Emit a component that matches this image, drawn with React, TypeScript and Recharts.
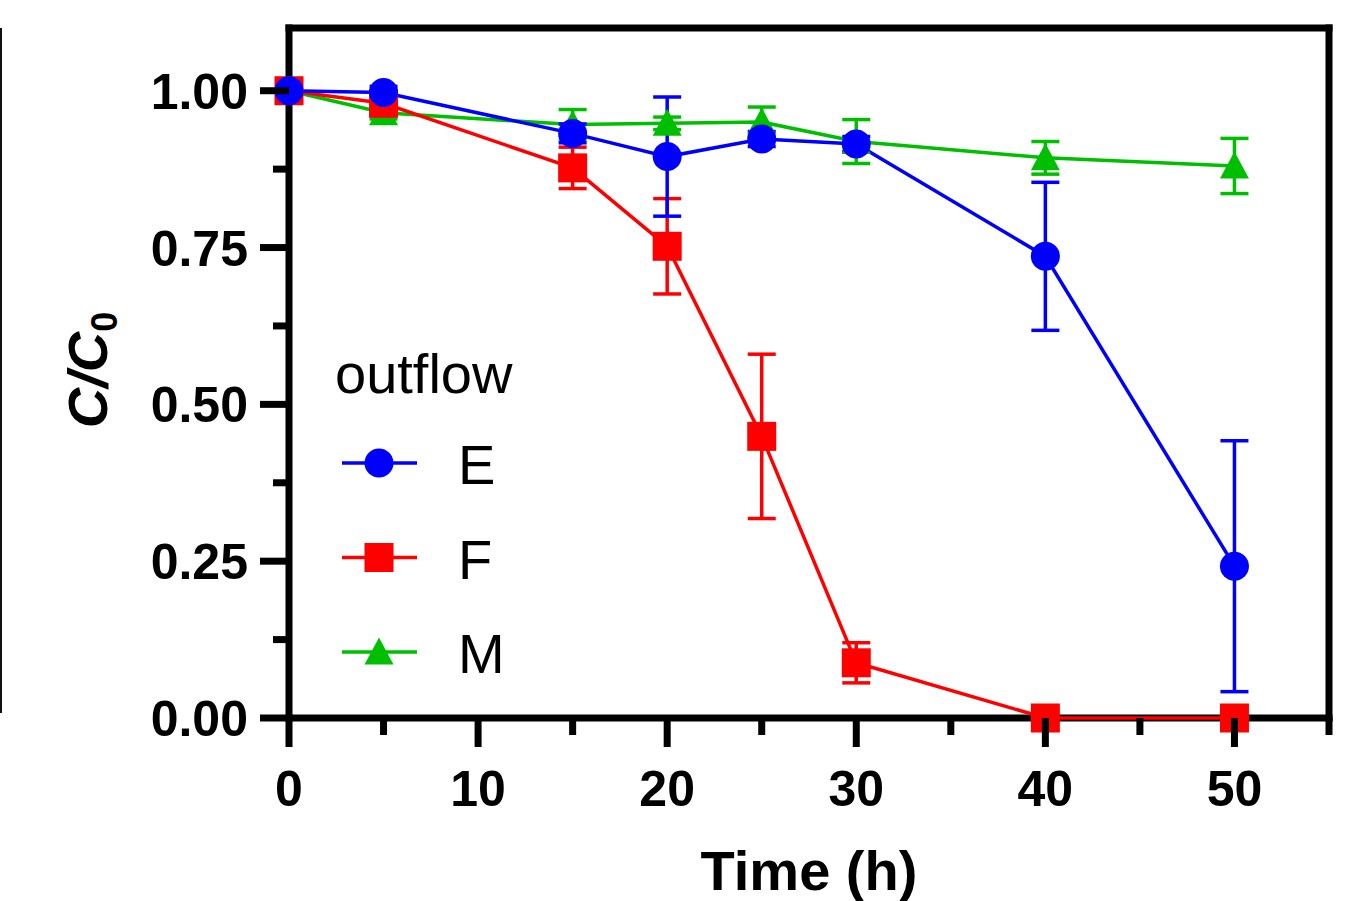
import React from 'react';
import { ComposedChart, Line, XAxis, YAxis, ErrorBar, ReferenceLine, Legend, Label } from 'recharts';

// ---- data ----
const timeH = [0, 5, 15, 20, 25, 30, 40, 50];
const valE = [1.0, 0.997, 0.932, 0.895, 0.923, 0.915, 0.736, 0.242];
const errE = [0.005, 0.01, 0.015, 0.095, 0.012, 0.012, 0.118, 0.2];
const valF = [1.0, 0.98, 0.877, 0.752, 0.449, 0.088, 0.0, 0.0];
const errF = [0.005, 0.01, 0.033, 0.076, 0.131, 0.032, 0, 0];
const valM = [1.0, 0.965, 0.946, 0.948, 0.95, 0.919, 0.893, 0.88];
const errM = [0.005, 0.01, 0.024, 0.01, 0.024, 0.035, 0.026, 0.044];

const seriesNames = ['E', 'F', 'M'];
const seriesColors = ['#0000FF', '#FF0000', '#00BF00'];
const seriesShapes = ['circle', 'square', 'triangle'];
const legendTitle = 'outflow';

const xTicks = [0, 5, 10, 15, 20, 25, 30, 35, 40, 45, 50, 55];
const yTicks = [0, 0.125, 0.25, 0.375, 0.5, 0.625, 0.75, 0.875, 1.0];
const xTitle = 'Time (h)';

const rows = timeH.map((t, i) => ({
  t,
  E: valE[i], Ee: errE[i],
  F: valF[i], Fe: errF[i],
  M: valM[i], Me: errM[i],
}));

const FONT = '"Liberation Sans", Arial, Helvetica, sans-serif';
const AXIS_W = 7;
const Y_AXIS_W = 100;
const X_AXIS_H = 100;

function Marker({ shape, cx, cy, color }: any) {
  if (shape === 'circle') return <circle cx={cx} cy={cy} r={14.5} fill={color} stroke="none" />;
  if (shape === 'square') return <rect x={cx - 14.5} y={cy - 14.5} width={29} height={29} fill={color} stroke="none" />;
  return (
    <polygon
      points={`${cx},${cy - 14.5} ${cx + 14.5},${cy + 12.5} ${cx - 14.5},${cy + 12.5}`}
      fill={color}
      stroke="none"
    />
  );
}

const YTick = (props: any) => {
  const { x, y, payload } = props;
  const v = payload.value;
  const major = Math.abs(v * 4 - Math.round(v * 4)) < 1e-6;
  return (
    <g>
      <line x1={x} x2={x - (major ? 29 : 16)} y1={y} y2={y} stroke="#000" strokeWidth={AXIS_W} />
      {major && (
        <text x={x - 41} y={y} dy="0.36em" textAnchor="end" fontSize={50} fontWeight="bold" fontFamily={FONT} fill="#000">
          {v.toFixed(2)}
        </text>
      )}
    </g>
  );
};

const XTick = (props: any) => {
  const { x, y, payload } = props;
  const v = payload.value;
  const major = v % 10 === 0;
  return (
    <g>
      <line x1={x} x2={x} y1={y} y2={y + (major ? 29 : 17)} stroke="#000" strokeWidth={AXIS_W} />
      {major && (
        <text x={x} y={y + 88} textAnchor="middle" fontSize={50} fontWeight="bold" fontFamily={FONT} fill="#000">
          {v}
        </text>
      )}
    </g>
  );
};

const YTitle = (props: any) => {
  const vb = props.viewBox || {};
  const cx = vb.x + vb.width - 182;
  const cy = vb.y + vb.height / 2 - 3;
  return (
    <text
      x={cx}
      y={cy}
      transform={`rotate(-90, ${cx}, ${cy})`}
      textAnchor="middle"
      fontSize={56}
      fontWeight="bold"
      fontStyle="italic"
      fontFamily={FONT}
      fill="#000"
    >
      C/C
      <tspan fontSize={36} dy={10} fontStyle="normal">0</tspan>
    </text>
  );
};

const XTitle = (props: any) => {
  const vb = props.viewBox || {};
  return (
    <text x={vb.x + vb.width / 2} y={vb.y + 172} textAnchor="middle" fontSize={56} fontWeight="bold" fontFamily={FONT} fill="#000">
      {xTitle}
    </text>
  );
};

const LegendContent = () => (
  <svg width={260} height={350} style={{ display: 'block', overflow: 'visible' }}>
    <text x={5} y={53} fontSize={56} fontFamily={FONT} fill="#000">{legendTitle}</text>
    {seriesNames.map((n, i) => {
      const cy = 123 + i * 94.5;
      return (
        <g key={n}>
          <line x1={12} x2={87} y1={cy} y2={cy} stroke={seriesColors[i]} strokeWidth={3.5} />
          <Marker shape={seriesShapes[i]} cx={49} cy={cy} color={seriesColors[i]} />
          <text x={128} y={cy + 21} fontSize={56} fontFamily={FONT} fill="#000">{n}</text>
        </g>
      );
    })}
  </svg>
);

export default function App() {
  return (
    <div style={{ position: 'absolute', left: 0, top: 0, width: 1367, height: 901, background: '#fff' }}>
      <div style={{ position: 'absolute', left: 0, top: 28, width: 2, height: 685, background: '#111' }} />
      <ComposedChart
        width={1367}
        height={901}
        data={rows}
        margin={{ top: 28, right: 38, bottom: 183 - X_AXIS_H, left: 289 - Y_AXIS_W }}
      >
        <XAxis
          dataKey="t"
          type="number"
          domain={[0, 55]}
          ticks={xTicks}
          interval={0}
          height={X_AXIS_H}
          tickSize={0}
          tickMargin={0}
          tickLine={false}
          tick={<XTick />}
          axisLine={false}
        >
          <Label content={<XTitle />} />
        </XAxis>
        <YAxis
          type="number"
          domain={[0, 1.1]}
          ticks={yTicks}
          interval={0}
          width={Y_AXIS_W}
          tickSize={0}
          tickMargin={0}
          tickLine={false}
          tick={<YTick />}
          axisLine={false}
        >
          <Label content={<YTitle />} />
        </YAxis>
        <ReferenceLine x={0} stroke="#000" strokeWidth={AXIS_W} strokeLinecap="square" />
        <ReferenceLine y={0} stroke="#000" strokeWidth={AXIS_W} strokeLinecap="square" />
        <ReferenceLine y={1.1} stroke="#000" strokeWidth={AXIS_W} strokeLinecap="square" />
        <ReferenceLine x={55} stroke="#000" strokeWidth={AXIS_W} strokeLinecap="square" />
        {[2, 1, 0].map((i) => {
          const key = seriesNames[i];
          return (
            <Line
              key={key}
              dataKey={key}
              name={key}
              type="linear"
              stroke={seriesColors[i]}
              strokeWidth={3.5}
              isAnimationActive={false}
              activeDot={false}
              dot={(p: any) => (
                <Marker key={`${key}-${p.index}`} shape={seriesShapes[i]} cx={p.cx} cy={p.cy} color={seriesColors[i]} />
              )}
            >
              <ErrorBar dataKey={`${key}e`} width={14} strokeWidth={3.5} stroke={seriesColors[i]} direction="y" isAnimationActive={false} />
            </Line>
          );
        })}
        <Legend
          layout="horizontal"
          verticalAlign="middle"
          align="center"
          wrapperStyle={{ left: 330, top: 340, width: 260, height: 350 }}
          content={<LegendContent />}
        />
      </ComposedChart>
    </div>
  );
}
